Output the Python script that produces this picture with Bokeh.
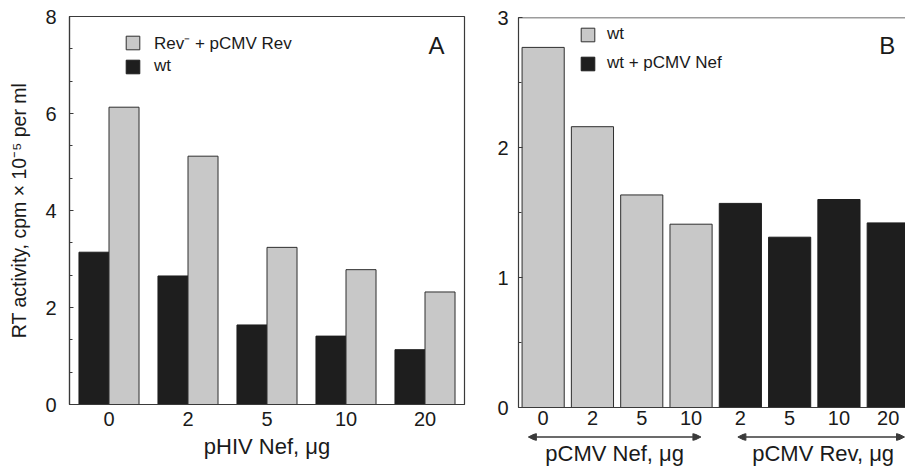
from bokeh.plotting import figure
from bokeh.layouts import row, column
from bokeh.models import (Range1d, FixedTicker, SingleIntervalTicker, Legend, LegendItem,
                          Label, Arrow, NormalHead, ColumnDataSource, Span)
from bokeh.transform import dodge
from bokeh.embed import file_html
from bokeh.resources import INLINE

FONT = "Liberation Sans"
GRAY = "#c8c8c8"
BLACK = "#1e1e1e"
EDGE = "#2e2e2e"
AX = "#3a3a3a"
TXT = "#1a1a1a"

# ---------------- data ----------------
# Panel A: RT activity vs pHIV Nef dose
a_doses = ["0", "2", "5", "10", "20"]
a_wt = [3.14, 2.65, 1.64, 1.41, 1.13]
a_rev = [6.13, 5.12, 3.24, 2.78, 2.32]

# Panel B
b_nef_doses = ["0", "2", "5", "10"]
b_nef_wt = [2.77, 2.16, 1.635, 1.41]
b_rev_doses = ["2", "5", "10", "20"]
b_rev_wtnef = [1.57, 1.31, 1.60, 1.42]
b_group_titles = ["pCMV Nef, \u03bcg", "pCMV Rev, \u03bcg"]


def style(p):
    p.grid.visible = False
    p.background_fill_color = "white"
    p.border_fill_color = "white"
    p.outline_line_color = AX
    p.outline_line_width = 1.2
    for ax in p.axis:
        ax.axis_line_color = AX
        ax.axis_line_width = 1.2
        ax.major_label_text_font = FONT
        ax.major_label_text_font_size = "20px"
        ax.major_label_text_color = TXT
        ax.axis_label_text_font = FONT
        ax.axis_label_text_font_size = "22px"
        ax.axis_label_text_font_style = "normal"
        ax.axis_label_text_color = TXT
    p.yaxis.major_tick_in = 4
    p.yaxis.major_tick_out = 0
    p.yaxis.minor_tick_in = 3
    p.yaxis.minor_tick_out = 0
    p.yaxis.major_tick_line_color = AX
    p.yaxis.minor_tick_line_color = AX
    p.xaxis.major_tick_line_color = None
    p.xaxis.minor_tick_line_color = None
    p.xaxis.major_tick_in = 0
    p.xaxis.major_tick_out = 0


# ---------------- Panel A ----------------
pa = figure(width=480, height=468, x_range=Range1d(-0.5, len(a_doses) - 0.5),
            y_range=Range1d(0, 8), output_backend="svg", toolbar_location=None,
            min_border_left=69, min_border_right=16, min_border_top=16, min_border_bottom=64)
src_a = ColumnDataSource(dict(x=list(range(len(a_doses))), wt=a_wt, rev=a_rev))
r_wt = pa.vbar(x=dodge("x", -0.19), top="wt", width=0.38, source=src_a,
               fill_color=BLACK, line_color=BLACK, line_width=1)
r_rev = pa.vbar(x=dodge("x", 0.19), top="rev", width=0.38, source=src_a,
                fill_color=GRAY, line_color=EDGE, line_width=1)
style(pa)
pa.xaxis.ticker = FixedTicker(ticks=list(range(len(a_doses))))
pa.xaxis.major_label_overrides = {i: d for i, d in enumerate(a_doses)}
pa.xaxis.major_label_standoff = 7
pa.xaxis.axis_label = "pHIV Nef, \u03bcg"
pa.xaxis.axis_label_standoff = 5
pa.yaxis.ticker = SingleIntervalTicker(interval=2, num_minor_ticks=3)
pa.yaxis.axis_label = "RT activity, cpm \u00d7 10\u207b\u2075 per ml"
pa.yaxis.axis_label_text_font_size = "19.5px"
pa.yaxis.major_label_standoff = 13
pa.yaxis.axis_label_standoff = 12

leg_a = Legend(items=[LegendItem(label="Rev\u207b + pCMV Rev", renderers=[r_rev]),
                      LegendItem(label="wt", renderers=[r_wt])],
               location=(55, 328), orientation="vertical",
               glyph_width=17, glyph_height=17, label_height=17, spacing=2,
               padding=0, margin=0, label_standoff=13,
               label_text_font=FONT, label_text_font_size="17px", label_text_color=TXT,
               border_line_color=None, background_fill_alpha=0)
pa.add_layout(leg_a)
pa.add_layout(Label(x=4.145, y=7.13, text="A", text_align="center", text_baseline="bottom",
                    text_font=FONT, text_font_size="24px", text_color=TXT))

# ---------------- Panel B (bars) ----------------
nb = len(b_nef_doses) + len(b_rev_doses)
xr_b = Range1d(-0.5, 7.35)
pb = figure(width=425, height=433, x_range=xr_b,
            y_range=Range1d(0, 3), output_backend="svg", toolbar_location=None,
            min_border_left=38, min_border_right=0, min_border_top=17, min_border_bottom=26)
src_nef = ColumnDataSource(dict(x=list(range(len(b_nef_doses))), top=b_nef_wt))
src_rev = ColumnDataSource(dict(x=list(range(len(b_nef_doses), nb)), top=b_rev_wtnef))
rb1 = pb.vbar(x="x", top="top", width=0.855, source=src_nef,
              fill_color=GRAY, line_color=EDGE, line_width=1)
rb2 = pb.vbar(x="x", top="top", width=0.855, source=src_rev,
              fill_color=BLACK, line_color=BLACK, line_width=1)
style(pb)
pb.outline_line_color = None
pb.add_layout(Span(location=3, dimension="width", line_color=AX, line_width=1.5))
pb.xaxis.ticker = FixedTicker(ticks=list(range(nb)))
pb.xaxis.major_label_overrides = {i: d for i, d in enumerate(b_nef_doses + b_rev_doses)}
pb.xaxis.major_label_standoff = 3
pb.yaxis.ticker = SingleIntervalTicker(interval=1, num_minor_ticks=2)
pb.yaxis.major_label_standoff = 10

leg_b = Legend(items=[LegendItem(label="wt", renderers=[rb1]),
                      LegendItem(label="wt + pCMV Nef", renderers=[rb2])],
               location=(61, 334), orientation="vertical",
               glyph_width=17, glyph_height=17, label_height=17, spacing=9,
               padding=0, margin=0, label_standoff=11,
               label_text_font=FONT, label_text_font_size="17px", label_text_color=TXT,
               border_line_color=None, background_fill_alpha=0)
pb.add_layout(leg_b)
pb.add_layout(Label(x=6.98, y=2.677, text="B", text_align="center", text_baseline="bottom",
                    text_font=FONT, text_font_size="24px", text_color=TXT))

# ---------------- Panel B (dose-range arrows and titles) ----------------
pbb = figure(width=425, height=35, x_range=xr_b, y_range=Range1d(0, 1),
             output_backend="svg", toolbar_location=None, y_axis_location=None,
             min_border_left=38, min_border_right=0, min_border_top=0, min_border_bottom=27)
pbb.grid.visible = False
pbb.outline_line_color = None
pbb.background_fill_color = "white"
pbb.border_fill_color = "white"
pbb.xaxis.ticker = FixedTicker(ticks=[1.45, 5.68])
pbb.xaxis.major_label_overrides = {1.45: b_group_titles[0], 5.68: b_group_titles[1]}
pbb.xaxis.axis_line_color = None
pbb.xaxis.major_tick_line_color = None
pbb.xaxis.minor_tick_line_color = None
pbb.xaxis.major_tick_in = 0
pbb.xaxis.major_tick_out = 0
pbb.xaxis.major_label_standoff = 0
pbb.xaxis.major_label_text_font = FONT
pbb.xaxis.major_label_text_font_size = "22px"
pbb.xaxis.major_label_text_color = TXT

for x0, x1 in [(-0.3, 3.2), (3.95, 7.33)]:
    pbb.add_layout(Arrow(x_start=x0, y_start=0.5, x_end=x1, y_end=0.5,
                         line_color=AX, line_width=1.3,
                         start=NormalHead(size=8, fill_color=AX, line_color=AX),
                         end=NormalHead(size=8, fill_color=AX, line_color=AX)))

layout = row(pa, column(pb, pbb, spacing=0), spacing=0)
open("out.html", "w").write(file_html(layout, INLINE))
